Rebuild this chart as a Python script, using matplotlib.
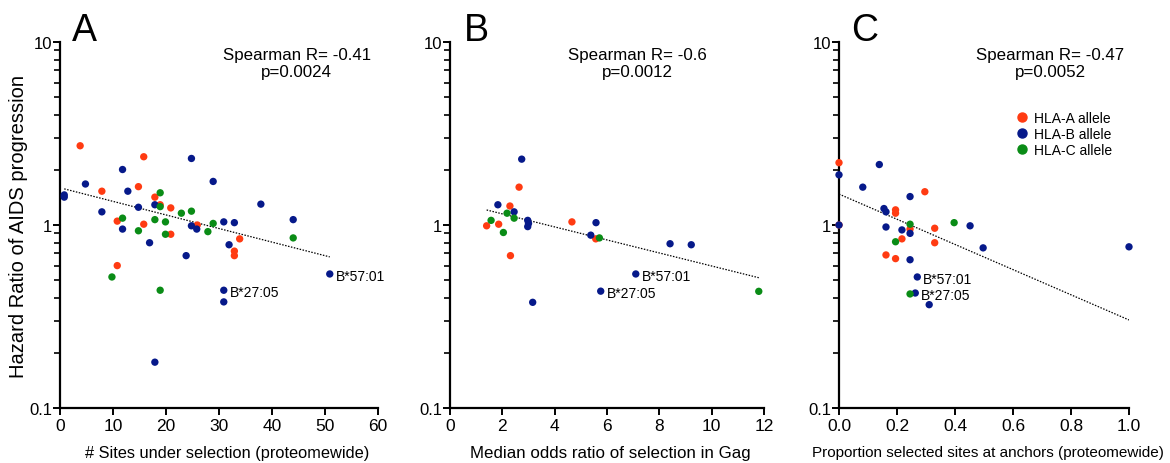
import numpy as np
import matplotlib
matplotlib.use("Agg")
import matplotlib.pyplot as plt
from matplotlib.lines import Line2D
from matplotlib.ticker import FixedLocator, NullFormatter

plt.rcParams['font.family'] = ['Liberation Sans', 'DejaVu Sans']

# ---------------- Data ----------------
# Panel A: # sites under selection (proteomewide)
a_red_x = [3.8, 15.8, 7.9, 14.8, 17.9, 18.9, 20.9, 10.8, 15.8, 20.9, 25.9, 33.9, 32.9, 32.9, 10.8]
a_red_y = [2.71, 2.36, 1.53, 1.62, 1.42, 1.29, 1.24, 1.05, 1.01, 0.89, 1.00, 0.84, 0.72, 0.68, 0.60]
a_blue_x = [0.8, 0.8, 4.8, 11.8, 24.8, 28.9, 12.8, 7.9, 14.8, 17.9, 37.9, 11.8, 24.8, 25.8,
            30.9, 32.9, 44.0, 16.9, 31.9, 23.8, 30.9, 30.9, 50.9, 17.9]
a_blue_y = [1.46, 1.42, 1.675, 2.01, 2.31, 1.73, 1.53, 1.18, 1.25, 1.29, 1.30, 0.95, 0.99, 0.95,
            1.04, 1.03, 1.07, 0.80, 0.78, 0.68, 0.44, 0.38, 0.54, 0.178]
a_green_x = [18.9, 18.9, 22.9, 24.8, 11.8, 17.9, 19.9, 28.9, 14.8, 19.9, 27.9, 44.0, 9.8, 18.9]
a_green_y = [1.50, 1.26, 1.16, 1.19, 1.09, 1.07, 1.04, 1.02, 0.93, 0.89, 0.92, 0.85, 0.52, 0.44]
a_fit = [0.2034, -0.00742]          # log10(HR) = a + b*x
a_fit_x = [0.8, 50.9]
a_labels = ['B*27:05', 'B*57:01']
a_label_x = [30.9, 50.9]
a_label_y = [0.44, 0.54]
a_stats = 'Spearman R= -0.41\np=0.0024'

# Panel B: median odds ratio of selection in Gag
b_red_x = [2.64, 2.29, 1.40, 1.86, 4.66, 5.57, 2.31]
b_red_y = [1.61, 1.27, 0.99, 1.01, 1.04, 0.84, 0.68]
b_blue_x = [2.74, 1.83, 2.45, 2.97, 3.0, 2.97, 5.58, 5.38, 8.41, 9.22, 7.10, 5.76, 3.16]
b_blue_y = [2.29, 1.29, 1.18, 1.06, 1.02, 0.98, 1.03, 0.88, 0.79, 0.78, 0.54, 0.435, 0.378]
b_green_x = [1.57, 2.18, 2.45, 2.04, 5.71, 11.80]
b_green_y = [1.06, 1.16, 1.09, 0.91, 0.85, 0.434]
b_fit = [0.132, -0.0356]
b_fit_x = [1.40, 11.80]
b_labels = ['B*57:01', 'B*27:05']
b_label_x = [7.10, 5.76]
b_label_y = [0.54, 0.435]
b_stats = 'Spearman R= -0.6\np=0.0012'

# Panel C: proportion selected sites at anchors (proteomewide)
c_red_x = [0.0, 0.0, 0.296, 0.195, 0.195, 0.245, 0.33, 0.33, 0.217, 0.162, 0.195]
c_red_y = [2.19, 1.0, 1.52, 1.21, 1.16, 0.95, 0.96, 0.80, 0.84, 0.686, 0.655]
c_blue_x = [0.0, 0.0, 0.139, 0.082, 0.245, 0.155, 0.162, 0.162, 0.217, 0.245, 0.452, 0.497,
            1.0, 0.245, 0.27, 0.263, 0.311]
c_blue_y = [1.88, 1.0, 2.14, 1.61, 1.43, 1.23, 1.18, 0.975, 0.94, 0.90, 0.99, 0.75,
            0.76, 0.646, 0.52, 0.425, 0.367]
c_green_x = [0.245, 0.397, 0.195, 0.245]
c_green_y = [1.01, 1.03, 0.81, 0.42]
c_fit = [0.169, -0.688]
c_fit_x = [0.0, 1.0]
c_labels = ['B*57:01', 'B*27:05']
c_label_x = [0.27, 0.263]
c_label_y = [0.52, 0.425]
c_stats = 'Spearman R= -0.47\np=0.0052'

xlabels = ['# Sites under selection (proteomewide)',
           'Median odds ratio of selection in Gag',
           'Proportion selected sites at anchors (proteomewide)']
xlims = [(0, 60), (0, 12), (0, 1.0)]
xticks = [[0, 10, 20, 30, 40, 50, 60], [0, 2, 4, 6, 8, 10, 12],
          [0.0, 0.2, 0.4, 0.6, 0.8, 1.0]]
xticklabels = [['0', '10', '20', '30', '40', '50', '60'],
               ['0', '2', '4', '6', '8', '10', '12'],
               ['0.0', '0.2', '0.4', '0.6', '0.8', '1.0']]
letters = ['A', 'B', 'C']
legend_names = ['HLA-A allele', 'HLA-B allele', 'HLA-C allele']
ylabel = 'Hazard Ratio of AIDS progression'

RED = '#FF3B12'
BLUE = '#06198A'
GREEN = '#0A8C16'

# ---------------- Figure ----------------
W, H = 1170, 464
fig = plt.figure(figsize=(W / 100, H / 100), dpi=100)

def px_axes(x0, x1, y0, y1):
    return fig.add_axes([x0 / W, 1 - y1 / H, (x1 - x0) / W, (y1 - y0) / H])

ax_px = [(60, 378), (450, 764), (839, 1129)]
axes = [px_axes(x0, x1, 43, 409) for x0, x1 in ax_px]

panels = [
    (a_red_x, a_red_y, a_blue_x, a_blue_y, a_green_x, a_green_y, a_fit, a_fit_x,
     a_labels, a_label_x, a_label_y, a_stats),
    (b_red_x, b_red_y, b_blue_x, b_blue_y, b_green_x, b_green_y, b_fit, b_fit_x,
     b_labels, b_label_x, b_label_y, b_stats),
    (c_red_x, c_red_y, c_blue_x, c_blue_y, c_green_x, c_green_y, c_fit, c_fit_x,
     c_labels, c_label_x, c_label_y, c_stats),
]
stat_xpos = [0.745, 0.596, 0.728]
letter_px = [72, 464, 851]
xlabel_size = [11.8, 12.2, 11.0]
xlabel_pos = [0.525, 0.51, 0.514]

for i, (ax, p) in enumerate(zip(axes, panels)):
    rx, ry, bx, by, gx, gy, fit, fitx, labs, lx, ly, stats = p
    ax.set_yscale('log')
    ax.set_ylim(0.1, 10)
    ax.set_xlim(*xlims[i])
    ms = 28
    ax.scatter(rx, ry, s=ms, color=RED, edgecolors='none', zorder=3, clip_on=False)
    ax.scatter(bx, by, s=ms, color=BLUE, edgecolors='none', zorder=3, clip_on=False)
    ax.scatter(gx, gy, s=ms, color=GREEN, edgecolors='none', zorder=3, clip_on=False)
    fx = np.array(fitx)
    ax.plot(fx, 10 ** (fit[0] + fit[1] * fx), color='black', lw=0.9,
            linestyle=(0, (1.2, 1.2)), zorder=2)
    for t, x, y in zip(labs, lx, ly):
        ax.annotate(t, (x, y), xytext=(4.3, -1.5), textcoords='offset points',
                    ha='left', va='center', fontsize=10)
    ax.text(stat_xpos[i], 0.985, stats, transform=ax.transAxes, ha='center', va='top',
            fontsize=12.2, linespacing=1.15)

    for s in ['top', 'right']:
        ax.spines[s].set_visible(False)
    for s in ['left', 'bottom']:
        ax.spines[s].set_linewidth(1.6)
    ax.yaxis.set_major_locator(FixedLocator([0.1, 1, 10]))
    ax.set_yticklabels(['0.1', '1', '10'])
    minors = [m * d for d in (0.1, 1) for m in range(2, 10)]
    ax.yaxis.set_minor_locator(FixedLocator(minors))
    ax.yaxis.set_minor_formatter(NullFormatter())
    ax.tick_params(axis='y', which='major', direction='out', length=5, width=1.4,
                   labelsize=12, pad=0.5)
    ax.tick_params(axis='y', which='minor', direction='out', length=4, width=1.2)
    ax.set_xticks(xticks[i])
    ax.set_xticklabels(xticklabels[i], fontsize=12.5)
    ax.tick_params(axis='x', direction='out', length=5, width=1.4, pad=2)
    ax.set_xlabel(xlabels[i], fontsize=xlabel_size[i])
    ax.xaxis.set_label_coords(xlabel_pos[i], -0.10)
    fig.text(letter_px[i] / W, 1 - 41 / H, letters[i], ha='left', va='baseline',
             fontsize=27)

axes[0].set_ylabel(ylabel, fontsize=14.5, labelpad=1)

handles = [Line2D([], [], marker='o', linestyle='none', color=c, markersize=6.5)
           for c in (RED, BLUE, GREEN)]
axes[2].legend(handles, legend_names, loc='upper left', bbox_to_anchor=(0.58, 0.83),
               frameon=False, fontsize=10, handletextpad=0.2, labelspacing=0.14,
               borderpad=0, handlelength=1.2)

fig.savefig('out.png', dpi=100)
